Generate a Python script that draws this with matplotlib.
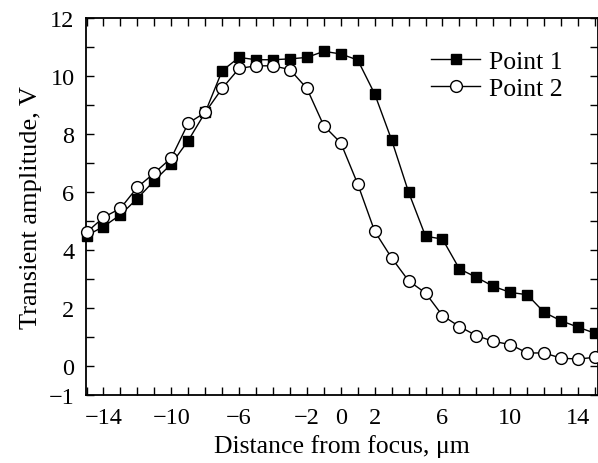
import matplotlib
matplotlib.use("Agg")

import matplotlib.pyplot as plt
from matplotlib.ticker import MultipleLocator, FixedLocator

plt.rcParams["font.family"] = ["Liberation Serif", "DejaVu Serif"]

# distance from focus, um
x = list(range(-15, 16))

point1 = [4.50, 4.81, 5.22, 5.78, 6.40, 6.97, 7.78, 8.75, 10.19, 10.65,
          10.57, 10.57, 10.60, 10.65, 10.86, 10.77, 10.56, 9.39, 7.80, 6.00,
          4.48, 4.38, 3.35, 3.06, 2.75, 2.54, 2.46, 1.85, 1.56, 1.34, 1.13]

point2 = [4.61, 5.13, 5.44, 6.17, 6.66, 7.18, 8.38, 8.75, 9.58, 10.27,
          10.36, 10.36, 10.23, 9.58, 8.29, 7.70, 6.28, 4.65, 3.73, 2.94,
          2.52, 1.74, 1.36, 1.05, 0.85, 0.74, 0.45, 0.45, 0.27, 0.24, 0.30]

xticks = [-14, -10, -6, -2, 0, 2, 6, 10, 14]
yticks = [-1, 0, 2, 4, 6, 8, 10, 12]

fig = plt.figure(figsize=(5.98, 4.64), dpi=100)
ax = fig.add_axes([0.1433, 0.1466, 0.856, 0.8118])

ax.plot(x, point1, color="black", lw=1, marker="s", ms=7,
        mfc="black", mec="black", clip_on=False, label="Point 1", zorder=3)
ax.plot(x, point2, color="black", lw=1, marker="o", ms=8.5,
        mfc="white", mec="black", mew=1, clip_on=False, label="Point 2", zorder=3)

ax.set_xlim(-15.05, 15.15)
ax.set_ylim(-1, 12)

ax.xaxis.set_major_locator(FixedLocator(xticks))
ax.xaxis.set_minor_locator(MultipleLocator(1))
ax.yaxis.set_major_locator(FixedLocator(yticks))
ax.yaxis.set_minor_locator(MultipleLocator(1))

ax.tick_params(which="both", direction="in", top=True, right=True,
               length=6, width=1, labelsize=17.5)
ax.tick_params(axis="x", pad=9)
ax.tick_params(axis="y", pad=8)
for s in ax.spines.values():
    s.set_linewidth(1.3)

ax.set_xlabel("Distance from focus, μm", fontsize=18.5, labelpad=4)
ax.set_ylabel("Transient amplitude, V", fontsize=19, labelpad=5)

ax.legend(loc="upper right", bbox_to_anchor=(0.932, 0.915), frameon=False,
          fontsize=18.5, handlelength=1.9, handletextpad=0.35, labelspacing=0.15,
          borderaxespad=0, borderpad=0)

fig.savefig("out.png", dpi=100)
plt.close(fig)
